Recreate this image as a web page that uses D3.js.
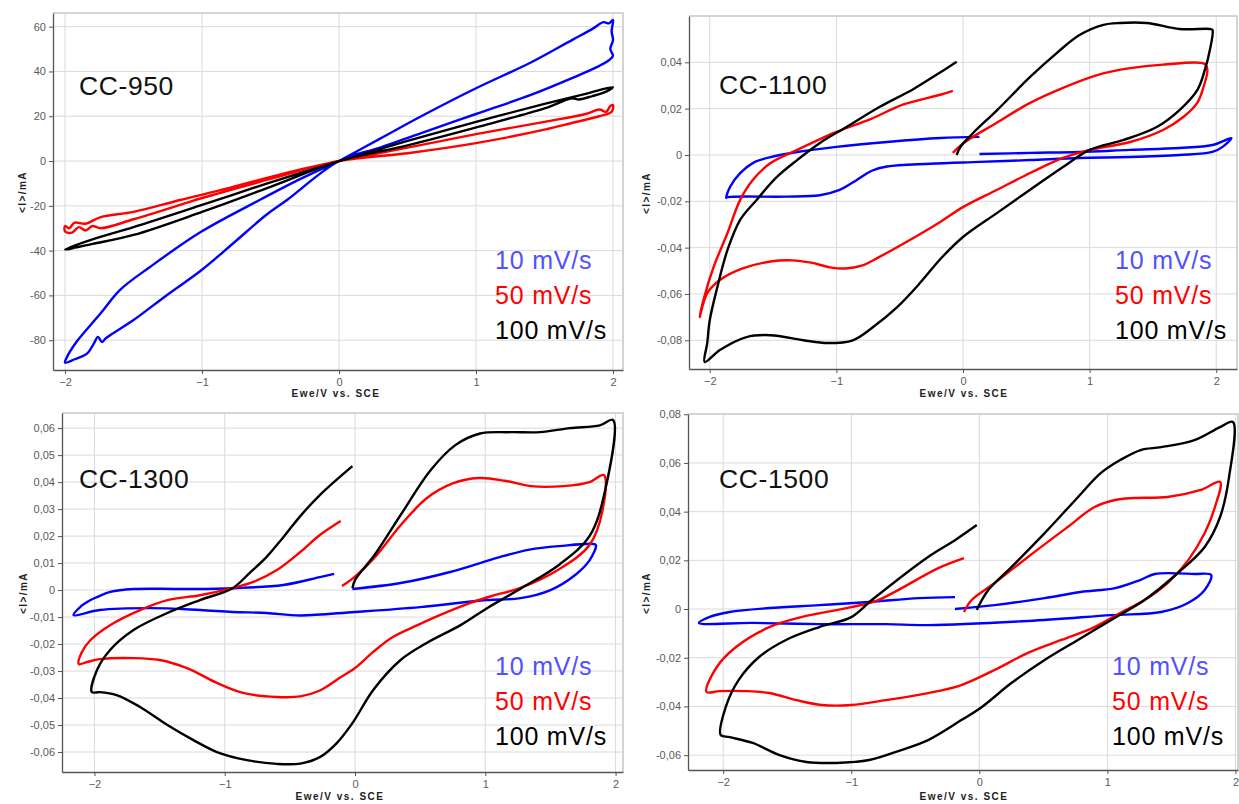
<!DOCTYPE html>
<html>
<head>
<meta charset="utf-8">
<script src="https://cdn.jsdelivr.net/npm/d3@7"></script>
<style>
  body { margin: 0; background: #fff; }
  svg { display: block; font-family: "Liberation Sans", Arial, sans-serif; }
</style>
</head>
<body>
<svg id="chart" width="1239" height="804"></svg>
<script>
// Cyclic voltammograms, potential (V vs. SCE) vs. current (mA), four carbon samples
// at three scan rates. Each array is a traced loop of [E, I] pairs.

const xTicks = [-2, -1, 0, 1, 2];
const yTicks950 = [-80, -60, -40, -20, 0, 20, 40, 60];
const yTicks1100 = [-0.08, -0.06, -0.04, -0.02, 0, 0.02, 0.04];
const yTicks1300 = [-0.06, -0.05, -0.04, -0.03, -0.02, -0.01, 0, 0.01, 0.02, 0.03, 0.04, 0.05, 0.06];
const yTicks1500 = [-0.06, -0.04, -0.02, 0, 0.02, 0.04, 0.06, 0.08];
const scanRates = ["10 mV/s", "50 mV/s", "100 mV/s"];
const sampleNames = ["CC-950", "CC-1100", "CC-1300", "CC-1500"];

// CC-950
const cc950_10 = [[0,0],[0.3,10],[0.6,20],[1.0,32.5],[1.4,44],[1.7,54],[1.85,59],[1.93,62],[1.97,61.5],[2.0,63],[1.99,58],[2.0,54],[1.98,50],[2.0,47],[1.97,45],[1.9,42.5],[1.7,37],[1.4,29.5],[1.0,21],[0.6,12.5],[0.3,6],[0,0],
  [-0.38,-17.4],[-0.53,-24],[-0.77,-36.6],[-1.01,-49],[-1.26,-60],[-1.5,-71],[-1.7,-79],[-1.73,-80.8],[-1.76,-78.5],[-1.79,-81.5],[-1.84,-86],[-1.93,-88.5],[-2.0,-90],[-1.99,-88],[-1.92,-81],[-1.74,-68],[-1.6,-57.6],[-1.38,-47.3],[-1.01,-31.7],[-0.58,-17.4],[-0.3,-8.5],[0,0]];
const cc950_50 = [[0,0],[0.5,6],[1.0,12],[1.5,17.5],[1.8,21],[1.9,23],[1.95,22],[1.98,24.5],[2.0,25],[1.99,22],[1.9,20],[1.7,17],[1.5,14],[1.0,8],[0.5,3.5],[0,0],
  [-0.5,-8],[-1.0,-16.5],[-1.16,-19.6],[-1.5,-26],[-1.74,-30],[-1.8,-29],[-1.85,-31],[-1.9,-29.5],[-1.95,-32],[-2.0,-31.5],[-2.0,-29],[-1.97,-30],[-1.93,-27.5],[-1.85,-28],[-1.74,-25],[-1.5,-22.7],[-1.16,-17.4],[-0.8,-12],[-0.4,-5.5],[0,0]];
const cc950_100 = [[0,0],[0.5,9],[1.0,17.5],[1.5,25.5],[1.8,30],[2.0,33],[1.95,31],[1.85,29],[1.75,27.5],[1.7,28],[1.5,23.5],[1.0,15],[0.5,7],[0,0],
  [-0.5,-11.5],[-1.0,-22.7],[-1.5,-33],[-1.8,-37],[-2.0,-39.5],[-1.8,-35],[-1.5,-29.5],[-1.0,-19.6],[-0.5,-9.5],[0,0]];

// CC-1100
const cc1100_10 = [[0.13,0.0004],[0.53,0.0009],[0.92,0.0013],[1.32,0.0022],[1.71,0.003],[1.97,0.0043],[2.12,0.0073],[2.05,0.0035],[1.97,0.0013],[1.71,0.0],[1.32,-0.0009],[0.92,-0.0013],[0.53,-0.0022],[0.13,-0.003],[-0.26,-0.0038],[-0.6,-0.005],[-0.72,-0.0068],[-0.85,-0.0112],[-0.98,-0.0152],[-1.13,-0.0174],[-1.4,-0.018],[-1.86,-0.0182],
  [-1.87,-0.0185],[-1.84,-0.0138],[-1.76,-0.0078],[-1.66,-0.0035],[-1.52,-0.0009],[-1.31,0.0013],[-1.0,0.0035],[-0.6,0.0056],[-0.18,0.0073],[0.13,0.0078]];
const cc1100_50 = [[-0.08,0.0009],[0,0.005],[0.27,0.014],[0.53,0.0225],[0.79,0.029],[1.06,0.0345],[1.32,0.0375],[1.58,0.039],[1.91,0.0393],[1.93,0.0367],[1.9,0.0294],[1.85,0.0225],[1.74,0.0164],[1.58,0.0108],[1.32,0.0056],[1.0,0.0022],[0.79,-0.0013],[0.53,-0.0078],[0.27,-0.015],[0,-0.0225],[-0.18,-0.0289],[-0.42,-0.0367],[-0.66,-0.044],[-0.8,-0.0478],[-0.93,-0.049],[-1.05,-0.0485],[-1.2,-0.0465],[-1.35,-0.0455],[-1.52,-0.046],[-1.74,-0.049],[-1.92,-0.054],[-2.02,-0.0597],[-2.08,-0.07],
  [-2.05,-0.0626],[-1.97,-0.0484],[-1.86,-0.0337],[-1.76,-0.0194],[-1.66,-0.0108],[-1.52,-0.0035],[-1.31,0.0022],[-1.0,0.01],[-0.73,0.0155],[-0.47,0.0218],[-0.18,0.026],[-0.08,0.0277]];
const cc1100_100 = [[-0.05,0.0],[-0.02,0.0035],[0.08,0.0095],[0.27,0.0194],[0.53,0.0337],[0.74,0.044],[0.92,0.0518],[1.11,0.0562],[1.24,0.057],[1.45,0.057],[1.71,0.0544],[1.95,0.0544],[1.97,0.054],[1.95,0.0454],[1.91,0.0367],[1.85,0.028],[1.71,0.0194],[1.53,0.0121],[1.27,0.0065],[1.0,0.0022],[0.79,-0.0052],[0.53,-0.015],[0.27,-0.025],[0,-0.0354],[-0.18,-0.045],[-0.34,-0.0553],[-0.52,-0.0657],[-0.71,-0.0743],[-0.87,-0.08],[-1.07,-0.0812],[-1.26,-0.08],[-1.52,-0.0778],[-1.71,-0.0786],[-1.92,-0.0842],[-2.04,-0.0894],
  [-2.02,-0.0812],[-2.0,-0.0713],[-1.94,-0.057],[-1.86,-0.041],[-1.76,-0.028],[-1.63,-0.0194],[-1.47,-0.0095],[-1.31,-0.0022],[-1.13,0.0052],[-0.92,0.0121],[-0.66,0.0207],[-0.39,0.0285],[-0.21,0.0346],[-0.05,0.0402]];

// CC-1300
const cc1300_10 = [[-0.02,0.0004],[0.35,0.0026],[0.73,0.0067],[1.11,0.0122],[1.34,0.015],[1.57,0.0163],[1.84,0.017],[1.85,0.0165],[1.8,0.011],[1.69,0.0056],[1.5,0.0],[1.27,-0.003],[1.01,-0.0037],[0.5,-0.0063],[0,-0.0081],[-0.42,-0.0094],[-0.68,-0.0085],[-0.94,-0.0081],[-1.19,-0.0074],[-1.57,-0.0067],[-1.96,-0.0074],[-2.16,-0.0093],
  [-2.11,-0.0063],[-2.03,-0.0037],[-1.98,-0.0026],[-1.88,-0.0007],[-1.7,0.0004],[-1.32,0.0004],[-0.93,0.0007],[-0.55,0.0019],[-0.27,0.0048],[-0.16,0.006]];
const cc1300_50 = [[-0.1,0.0015],[0.0,0.005],[0.15,0.012],[0.35,0.024],[0.55,0.034],[0.75,0.0395],[0.95,0.0415],[1.15,0.0405],[1.35,0.0385],[1.6,0.0385],[1.8,0.04],[1.91,0.0426],[1.9,0.0296],[1.8,0.0167],[1.57,0.0078],[1.27,0.0008],[1.05,-0.0022],[0.86,-0.0052],[0.65,-0.0093],[0.48,-0.013],[0.29,-0.0174],[0.14,-0.0229],[0,-0.0289],[-0.12,-0.0326],[-0.27,-0.0372],[-0.42,-0.0394],[-0.6,-0.0396],[-0.86,-0.0381],[-1.06,-0.0344],[-1.29,-0.0289],[-1.5,-0.0259],[-1.7,-0.0252],[-1.96,-0.0256],[-2.06,-0.0267],[-2.12,-0.0274],
  [-2.1,-0.0233],[-2.03,-0.0185],[-1.88,-0.013],[-1.65,-0.0074],[-1.44,-0.0037],[-1.19,-0.0019],[-0.94,0.0007],[-0.78,0.003],[-0.6,0.0074],[-0.42,0.0141],[-0.27,0.0204],[-0.11,0.0256]];
const cc1300_100 = [[-0.02,0.0007],[0,0.0037],[0.15,0.013],[0.35,0.0278],[0.58,0.0444],[0.77,0.0537],[0.96,0.058],[1.19,0.0585],[1.42,0.0585],[1.65,0.06],[1.88,0.061],[1.98,0.063],[1.92,0.037],[1.8,0.02],[1.57,0.0095],[1.27,0.0005],[1.01,-0.0068],[0.81,-0.013],[0.55,-0.0196],[0.35,-0.0259],[0.14,-0.037],[-0.02,-0.0493],[-0.14,-0.0567],[-0.27,-0.0619],[-0.42,-0.0643],[-0.6,-0.0644],[-0.83,-0.063],[-1.06,-0.06],[-1.24,-0.0556],[-1.44,-0.05],[-1.65,-0.0433],[-1.83,-0.0389],[-1.96,-0.0378],[-2.02,-0.0378],
  [-1.98,-0.0296],[-1.88,-0.0222],[-1.7,-0.0148],[-1.44,-0.0085],[-1.19,-0.0037],[-0.94,0.0007],[-0.81,0.0063],[-0.68,0.0122],[-0.55,0.0196],[-0.42,0.0274],[-0.27,0.0352],[-0.02,0.0459]];

// CC-1500
const cc1500_10 = [[-0.19,0.0],[0.12,0.0016],[0.51,0.0045],[0.79,0.007],[1.06,0.0086],[1.26,0.012],[1.37,0.0144],[1.68,0.0144],[1.81,0.014],[1.76,0.0078],[1.63,0.0025],[1.42,-0.0012],[1.03,-0.0025],[0.38,-0.0049],[-0.4,-0.0066],[-0.73,-0.0062],[-1.25,-0.0062],[-1.77,-0.0057],[-2.19,-0.0057],
  [-2.11,-0.0033],[-1.95,-0.0012],[-1.64,0.0004],[-1.25,0.0016],[-0.86,0.0029],[-0.47,0.0045],[-0.19,0.0049]];
const cc1500_50 = [[-0.12,-0.0012],[-0.06,0.0037],[0.12,0.0107],[0.38,0.0214],[0.69,0.0337],[0.9,0.0419],[1.06,0.0448],[1.21,0.0456],[1.47,0.046],[1.73,0.0489],[1.88,0.0522],[1.84,0.0419],[1.76,0.0312],[1.63,0.02],[1.47,0.0107],[1.29,0.0037],[1.1,-0.0016],[0.9,-0.0074],[0.64,-0.0127],[0.38,-0.018],[0.12,-0.025],[-0.14,-0.0312],[-0.4,-0.0345],[-0.73,-0.0374],[-1.0,-0.0394],[-1.23,-0.0394],[-1.43,-0.0374],[-1.64,-0.0345],[-1.82,-0.0337],[-2.03,-0.0337],[-2.13,-0.034],
  [-2.05,-0.0238],[-1.9,-0.0156],[-1.64,-0.0074],[-1.39,-0.0033],[-1.0,0.0008],[-0.79,0.0037],[-0.32,0.0168],[-0.12,0.0209]];
const cc1500_100 = [[-0.02,-0.0004],[0.07,0.0078],[0.25,0.0172],[0.51,0.0312],[0.75,0.0448],[0.95,0.0559],[1.1,0.0612],[1.26,0.0653],[1.42,0.0665],[1.68,0.0694],[1.88,0.0747],[1.98,0.0768],[1.95,0.0542],[1.88,0.0378],[1.76,0.0255],[1.55,0.0148],[1.29,0.0037],[1.03,-0.0045],[0.77,-0.0127],[0.51,-0.0209],[0.25,-0.0304],[0.02,-0.0402],[-0.14,-0.0456],[-0.4,-0.0538],[-0.61,-0.0579],[-0.86,-0.062],[-1.12,-0.0632],[-1.35,-0.0628],[-1.56,-0.06],[-1.77,-0.055],[-1.95,-0.0526],[-2.02,-0.0517],
  [-1.98,-0.0402],[-1.88,-0.0292],[-1.72,-0.0197],[-1.51,-0.0127],[-1.25,-0.0074],[-1.0,-0.0033],[-0.84,0.0037],[-0.4,0.0214],[-0.19,0.0283],[-0.02,0.0345]];

const lineColors = ["#0000ff", "#ff0000", "#000000"];
const legendColors = ["#5050ff", "#ff0000", "#000000"];

// plot frames and axis extents for the 2x2 grid
const panels = [
  { series: [cc950_10, cc950_50, cc950_100], yTicks: yTicks950, dec: 0, minorY: 2,
    box: { l: 53, t: 13, r: 623, b: 370 }, xDomain: [-2.088, 2.073], yDomain: [-93.3, 66.1],
    title: [79, 95], legend: [495, 269], yLab: [22, 192], xLab: [336, 397] },
  { series: [cc1100_10, cc1100_50, cc1100_100], yTicks: yTicks1100, dec: 2, minorY: 0.002,
    box: { l: 689, t: 16, r: 1237, b: 369 }, xDomain: [-2.164, 2.164], yDomain: [-0.0924, 0.060],
    title: [719, 94], legend: [1115, 269], yLab: [646, 193], xLab: [964, 397] },
  { series: [cc1300_10, cc1300_50, cc1300_100], yTicks: yTicks1300, dec: 2, minorY: 0.001,
    box: { l: 62, t: 413, r: 623, b: 772 }, xDomain: [-2.249, 2.057], yDomain: [-0.0674, 0.0656],
    title: [79, 488], legend: [495, 675], yLab: [23, 593], xLab: [340, 800] },
  { series: [cc1500_10, cc1500_50, cc1500_100], yTicks: yTicks1500, dec: 2, minorY: 0.002,
    box: { l: 688, t: 414, r: 1238, b: 770 }, xDomain: [-2.275, 2.02], yDomain: [-0.0661, 0.0801],
    title: [719, 488], legend: [1112, 675], yLab: [646, 593], xLab: [964, 800] }
];

const locale = d3.formatLocale({ decimal: ",", thousands: ".", grouping: [3], currency: ["", "€"], minus: "-" });
const tickFormat = dec => { const f = locale.format("." + dec + "f"); return v => Math.abs(v) < 1e-12 ? "0" : f(v); };

const svg = d3.select("#chart");
const defs = svg.append("defs");

panels.forEach((p, i) => {
  const b = p.box;
  const x = d3.scaleLinear().domain(p.xDomain).range([b.l, b.r]);
  const y = d3.scaleLinear().domain(p.yDomain).range([b.b, b.t]);
  const g = svg.append("g");

  // grid
  g.append("g").selectAll("line").data(xTicks).join("line")
    .attr("x1", d => x(d)).attr("x2", d => x(d)).attr("y1", b.t).attr("y2", b.b)
    .attr("stroke", "#dadada").attr("stroke-width", 1);
  g.append("g").selectAll("line").data(p.yTicks).join("line")
    .attr("x1", b.l).attr("x2", b.r).attr("y1", d => y(d)).attr("y2", d => y(d))
    .attr("stroke", "#dadada").attr("stroke-width", 1);

  // light frame on top and right
  g.append("path")
    .attr("d", `M${b.l},${b.t}H${b.r}V${b.b}`)
    .attr("fill", "none").attr("stroke", "#d4d4d4").attr("stroke-width", 2);

  // curves
  defs.append("clipPath").attr("id", "clip" + i)
    .append("rect").attr("x", b.l).attr("y", b.t).attr("width", b.r - b.l).attr("height", b.b - b.t);
  const line = d3.line().x(d => x(d[0])).y(d => y(d[1])).curve(d3.curveCatmullRom.alpha(0.5));
  g.append("g").attr("clip-path", `url(#clip${i})`)
    .selectAll("path").data(p.series).join("path")
    .attr("d", line)
    .attr("fill", "none")
    .attr("stroke", (d, k) => lineColors[k])
    .attr("stroke-width", 2.4)
    .attr("stroke-linejoin", "round");

  // axes
  const [y0, y1] = p.yDomain;
  const minorY = d3.range(Math.ceil(y0 / p.minorY) * p.minorY, y1, p.minorY);
  const minorX = d3.range(-2.2, 2.2001, 0.2).filter(v => v >= p.xDomain[0] && v <= p.xDomain[1]);

  const gy = g.append("g").attr("transform", `translate(${b.l},0)`);
  gy.call(d3.axisLeft(y).tickValues(minorY).tickSize(2).tickSizeOuter(0).tickFormat(""));
  gy.call(d3.axisLeft(y).tickValues(p.yTicks).tickSize(4).tickSizeOuter(0).tickPadding(3).tickFormat(tickFormat(p.dec)));

  const gx = g.append("g").attr("transform", `translate(0,${b.b})`);
  gx.call(d3.axisBottom(x).tickValues(minorX).tickSize(2).tickSizeOuter(0).tickFormat(""));
  gx.call(d3.axisBottom(x).tickValues(xTicks).tickSize(4).tickSizeOuter(0).tickPadding(4).tickFormat(d3.format("d")));

  [gx, gy].forEach(a => {
    a.selectAll(".domain").attr("stroke", "#555").attr("stroke-width", 1.3);
    a.selectAll(".tick line").attr("stroke", "#555");
    a.selectAll(".tick text").attr("fill", "#5a5a5a").attr("font-size", 11)
      .attr("font-family", "'Liberation Sans', Arial, sans-serif");
  });

  // axis titles
  g.append("text")
    .attr("x", p.xLab[0]).attr("y", p.xLab[1])
    .attr("text-anchor", "middle").attr("font-size", 10).attr("font-weight", "bold")
    .attr("letter-spacing", 1.5).attr("fill", "#222")
    .text("Ewe/V vs. SCE");
  g.append("text")
    .attr("transform", `translate(${p.yLab[0]},${p.yLab[1]}) rotate(-90)`)
    .attr("text-anchor", "middle").attr("dy", "0.35em")
    .attr("font-size", 10).attr("font-weight", "bold")
    .attr("letter-spacing", 1.4).attr("fill", "#222")
    .text("<I>/mA");

  // sample name
  g.append("text")
    .attr("x", p.title[0]).attr("y", p.title[1])
    .attr("font-size", 26.5).attr("letter-spacing", 0.6).attr("fill", "#111")
    .text(sampleNames[i]);

  // scan-rate legend
  g.append("g").selectAll("text").data(scanRates).join("text")
    .attr("x", p.legend[0]).attr("y", (d, k) => p.legend[1] + k * 35.2)
    .attr("font-size", 25).attr("letter-spacing", 0.8)
    .attr("fill", (d, k) => legendColors[k])
    .text(d => d);
});
</script>
</body>
</html>
